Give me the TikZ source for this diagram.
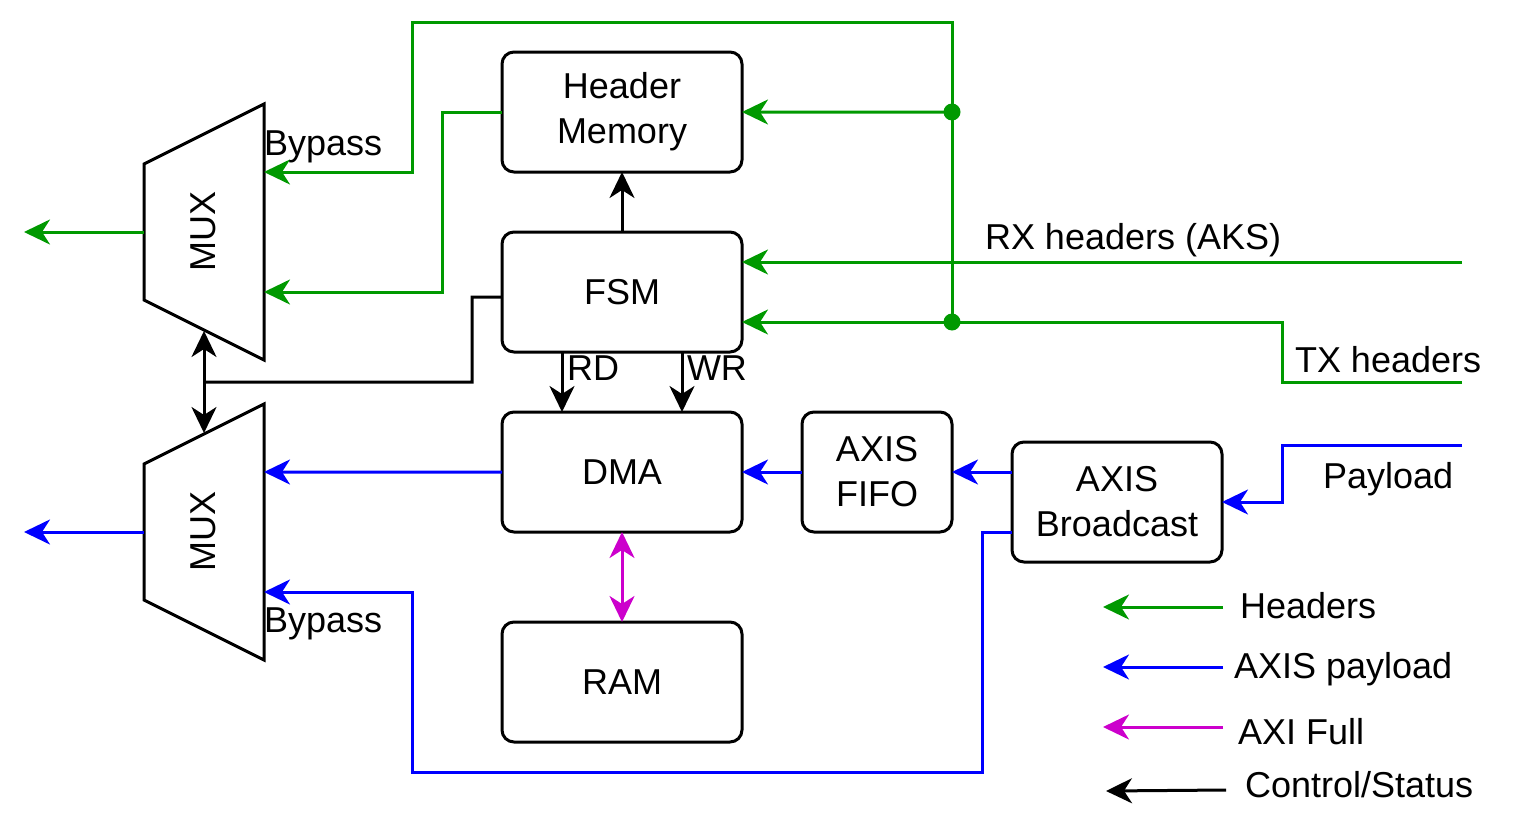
\documentclass[tikz,border=0pt]{standalone}
\usepackage{fontspec}
\setmainfont{Liberation Sans}
\usetikzlibrary{arrows.meta}
\definecolor{hgreen}{HTML}{009900}
\definecolor{pblue}{HTML}{0000FF}
\definecolor{amag}{HTML}{CC00CC}
\begin{document}
\begin{tikzpicture}[x=1bp,y=-1bp,
  every node/.style={font=\fontsize{36bp}{45bp}\selectfont, inner sep=0pt, outer sep=0pt},
  blk/.style={draw, line width=3bp, rounded corners=12bp, minimum width=240bp, minimum height=120bp, align=center, anchor=north west},
  wire/.style={line width=3bp},
  tip/.tip={Stealth[length=26bp,width=25bp,inset=8bp]},
  garr/.style={wire, hgreen, -tip},
  gline/.style={wire, hgreen},
  barr/.style={wire, pblue, -tip},
  karr/.style={wire, black, -tip},
  marr/.style={wire, amag, tip-tip},
  lbl/.style={anchor=base west}]
\useasboundingbox (0,0) rectangle (1524,834);

% blocks
\node[blk] (hm) at (502,52) {Header\\Memory};
\node[blk] (fsm) at (502,232) {FSM};
\node[blk] (dma) at (502,412) {DMA};
\node[blk] (ram) at (502,622) {RAM};
\node[blk, minimum width=150bp] (fifo) at (802,412) {AXIS\\FIFO};
\node[blk, minimum width=210bp] (bc) at (1012,442) {AXIS\\Broadcast};

% multiplexers
\draw[wire] (144,164) -- (264,104) -- (264,360) -- (144,300) -- cycle;
\draw[wire] (144,464) -- (264,404) -- (264,660) -- (144,600) -- cycle;
\node[rotate=90] (mux1) at (203,231) {MUX};
\node[rotate=90] (mux2) at (203,531) {MUX};

% ports and free ends
\coordinate (m1a) at (264,172);
\coordinate (m1b) at (264,292);
\coordinate (m1o) at (144,232);
\coordinate (o1) at (24,232);
\coordinate (m1c) at (204,331);
\coordinate (m2a) at (264,472);
\coordinate (m2b) at (264,592);
\coordinate (m2o) at (144,532);
\coordinate (o2) at (24,532);
\coordinate (m2c) at (204,433);
\coordinate (cj) at (204,382);
\coordinate (j1) at (952,112);
\coordinate (j2) at (952,322);
\coordinate (rx) at (1462,262);
\coordinate (tx) at (1462,382);
\coordinate (pl) at (1462,445);

% green (headers)
\draw[garr] (hm.west) -- ++(-60,0) |- (m1b);
\draw[gline] (j2) -- (j1);
\draw[garr] (j1) -- (952,22) -| (412,172) -- (m1a);
\draw[garr] (j1) -- (hm.east);
\draw[garr] (rx) -- (fsm.east |- rx);
\draw[garr] (tx) -- ++(-180,0) |- (j2) -- (fsm.east |- j2);
\draw[garr] (m1o) -- (o1);
\fill[hgreen] (j1) circle (8.5bp);
\fill[hgreen] (j2) circle (8.5bp);

% black (control)
\draw[karr] (fsm.north) -- (hm.south);
\draw[karr] ([xshift=-60bp]fsm.south) -- ([xshift=-60bp]dma.north);
\draw[karr] ([xshift=60bp]fsm.south) -- ([xshift=60bp]dma.north);
\draw[wire] ([yshift=-5bp]fsm.west) -- (472,297) |- (cj);
\draw[karr] (cj) -- (m1c);
\draw[karr] (cj) -- (m2c);

% blue (payload)
\draw[barr] (dma.west) -- (m2a);
\draw[barr] (fifo.west) -- (dma.east);
\draw[barr] (bc.west |- fifo.west) -- (fifo.east);
\draw[barr] (pl) -- ++(-180,0) |- (bc.east);
\draw[barr] ([yshift=-30bp]bc.west) -- ++(-30,0) |- (412,772) |- (m2b);
\draw[barr] (m2o) -- (o2);

% magenta (AXI full)
\draw[marr] (dma.south) -- (ram.north);

% labels
\node[lbl] (bp1) at (264,155) {Bypass};
\node[lbl] (bp2) at (264,632) {Bypass};
\node[lbl] (rxl) at (985,249) {RX headers (AKS)};
\node[lbl] (txl) at (1295,372) {TX headers};
\node[lbl] (pll) at (1323,488) {Payload};
\node[lbl] (rdl) at (567,380) {RD};
\node[lbl] (wrl) at (687,380) {WR};

% legend
\coordinate (lg1a) at (1223,607); \coordinate (lg1b) at (1103,607);
\coordinate (lg2a) at (1223,667); \coordinate (lg2b) at (1103,667);
\coordinate (lg3a) at (1223,727); \coordinate (lg3b) at (1103,727);
\coordinate (lg4a) at (1226,790); \coordinate (lg4b) at (1106,791);
\draw[garr] (lg1a) -- (lg1b);
\draw[barr] (lg2a) -- (lg2b);
\draw[wire, amag, -tip] (lg3a) -- (lg3b);
\draw[karr] (lg4a) -- (lg4b);
\node[lbl] (lgt1) at (1240,618) {Headers};
\node[lbl] (lgt2) at (1234,678) {AXIS payload};
\node[lbl] (lgt3) at (1238,744) {AXI Full};
\node[lbl] (lgt4) at (1245,797) {Control/Status};
\end{tikzpicture}
\end{document}
